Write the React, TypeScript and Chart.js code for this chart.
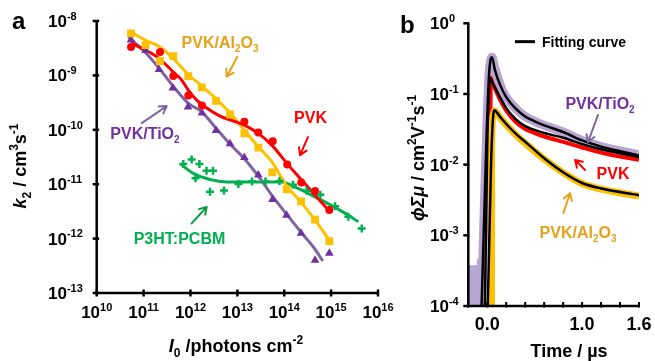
import React, { useEffect, useRef } from "react";
import { Chart, registerables } from "chart.js";
Chart.register(...registerables);

// ---------------- Panel a data ----------------
const i0Al2O3 = [5.4e10, 1.1e11, 2.24e11, 4.31e11, 8.99e11, 1.74e12, 3.51e12, 6.97e12, 1.41e13, 2.8e13, 5.55e13, 1.13e14, 2.28e14, 4.54e14, 9.16e14];
const k2Al2O3 = [5.94e-9, 3.61e-9, 1.84e-9, 2.27e-9, 9.73e-10, 6.03e-10, 3.4e-10, 1.91e-10, 8.59e-11, 4.71e-11, 1.65e-11, 8.0e-12, 4.82e-12, 2.24e-12, 8.95e-13];
const i0Al2O3Fit = [5.4e10, 1.08e11, 2.24e11, 4.4e11, 8.75e11, 1.76e12, 3.5e12, 7e12, 1.41e13, 2.8e13, 5.51e13, 1.1e14, 2.28e14, 4.54e14, 9.16e14];
const k2Al2O3Fit = [6.28e-9, 4.47e-9, 3.33e-9, 2.0e-9, 1.06e-9, 6.37e-10, 3.75e-10, 2.03e-10, 9.86e-11, 4.86e-11, 2.55e-11, 9.62e-12, 4.68e-12, 2.18e-12, 9.35e-13];

const i0PVK = [5.4e10, 2.24e11, 4.31e11, 8.99e11, 1.76e12, 1.41e13, 2.8e13, 5.68e13, 1.16e14, 2.31e14, 4.54e14, 9.16e14];
const k2PVK = [3.33e-9, 2.69e-9, 9.73e-10, 4.26e-10, 2.81e-10, 1.4e-10, 8.95e-11, 6.19e-11, 2.31e-11, 1.07e-11, 7.52e-12, 3.37e-12];
const i0PVKFit = [5.4e10, 1.11e11, 2.16e11, 4.31e11, 6.5e11, 8.99e11, 1.36e12, 2.22e12, 4.27e12, 8.2e12, 1.41e13, 2.8e13, 5.68e13, 1.15e14, 2.17e14, 4.53e14, 9.46e14];
const k2PVKFit = [3.94e-9, 2.92e-9, 2.04e-9, 1.15e-9, 8.2e-10, 5.37e-10, 3.52e-10, 2.51e-10, 1.79e-10, 1.45e-10, 1.22e-10, 8.59e-11, 5.01e-11, 2.39e-11, 1.29e-11, 6.28e-12, 3.1e-12];

const i0TiO2 = [5.4e10, 1.1e11, 2.13e11, 4.2e11, 8.87e11, 1.76e12, 3.51e12, 6.97e12, 1.41e13, 2.8e13, 5.62e13, 1.12e14, 2.28e14, 4.54e14, 9.16e14];
const k2TiO2 = [4.47e-9, 2.86e-9, 1.28e-9, 5.85e-10, 2.62e-10, 2.03e-10, 9.66e-11, 5.57e-11, 3.08e-11, 1.47e-11, 5.24e-12, 2.69e-12, 1.26e-12, 4.0e-13, 5.38e-13];
const i0TiO2Fit = [4.72e10, 1.07e11, 2.13e11, 4.25e11, 8.87e11, 1.76e12, 3.51e12, 6.97e12, 1.41e13, 2.8e13, 5.62e13, 1.12e14, 2.28e14, 4.54e14, 6.62e14];
const k2TiO2Fit = [5.08e-9, 2.69e-9, 1.36e-9, 6.37e-10, 3.1e-10, 2.12e-10, 1.07e-10, 5.46e-11, 2.95e-11, 1.41e-11, 6.03e-12, 2.81e-12, 1.31e-12, 6.37e-13, 3.88e-13];

const i0P3HT = [7.03e11, 1.06e12, 1.28e12, 1.55e12, 2.2e12, 3.03e12, 2.61e12, 5.19e12, 1.05e13, 2.06e13, 3.99e13, 7.93e13, 1.54e14, 3.02e14, 5.89e14, 1.21e15, 2.33e15, 4.5e15];
const k2P3HT = [2.34e-11, 2.85e-11, 1.28e-11, 2.34e-11, 1.76e-11, 1.76e-11, 7.23e-12, 7.67e-12, 1.01e-11, 1.12e-11, 1.12e-11, 1.15e-11, 9.72e-12, 7.6e-12, 6.37e-12, 3.94e-12, 2.51e-12, 1.53e-12];
const i0P3HTFit = [6.19e11, 1.15e12, 2.61e12, 5.93e12, 3.04e13, 8.83e13, 1.52e14, 2.55e14, 4.54e14, 8.05e14, 1.32e15, 2.33e15, 3.8e15];
const k2P3HTFit = [2.34e-11, 1.58e-11, 1.22e-11, 1.1e-11, 1.1e-11, 1.1e-11, 9.2e-12, 7.55e-12, 5.85e-12, 4.54e-12, 3.58e-12, 2.69e-12, 2.03e-12];

const aXTicks = [1e10, 1e11, 1e12, 1e13, 1e14, 1e15, 1e16];
const aXTickExp = ["10", "11", "12", "13", "14", "15", "16"];
const aYTicks = [1e-8, 1e-9, 1e-10, 1e-11, 1e-12, 1e-13];
const aYTickExp = ["-8", "-9", "-10", "-11", "-12", "-13"];

// ---------------- Panel b data ----------------
const tFitTiO2 = [-0.07, -0.06, -0.01, 0.02, 0.05, 0.08, 0.13, 0.2, 0.3, 0.4, 0.5, 0.6, 0.8, 1.0, 1.2, 1.4, 1.6];
const yFitTiO2 = [5e-5, 1e-4, 0.02, 0.2, 0.33, 0.22, 0.14, 0.09, 0.062, 0.048, 0.041, 0.036, 0.029, 0.022, 0.018, 0.0155, 0.0135];
const tFitPVK = [-0.035, -0.025, 0.0, 0.02, 0.035, 0.06, 0.13, 0.2, 0.3, 0.4, 0.5, 0.6, 0.8, 1.0, 1.2, 1.4, 1.6];
const yFitPVK = [5e-5, 1e-4, 0.02, 0.12, 0.167, 0.14, 0.092, 0.063, 0.044, 0.035, 0.031, 0.028, 0.024, 0.0195, 0.0165, 0.0145, 0.0128];
const tFitAl2O3 = [-0.005, 0.005, 0.04, 0.06, 0.077, 0.1, 0.15, 0.24, 0.32, 0.42, 0.6, 0.8, 1.0, 1.2, 1.4, 1.6];
const yFitAl2O3 = [5e-5, 1e-4, 0.01, 0.045, 0.059, 0.055, 0.045, 0.033, 0.026, 0.02, 0.0123, 0.0078, 0.0055, 0.0046, 0.0041, 0.0037];

const tDataTiO2 = [-0.06, -0.03, 0.0, 0.02, 0.04, 0.05, 0.07, 0.1, 0.15, 0.2, 0.3, 0.4, 0.5, 0.6, 0.8, 1.0, 1.2, 1.4, 1.6];
const yDataTiO2 = [1e-4, 0.003, 0.05, 0.2, 0.31, 0.33, 0.26, 0.19, 0.12, 0.09, 0.062, 0.048, 0.041, 0.036, 0.029, 0.022, 0.018, 0.0157, 0.0138];
const tNoiseTiO2 = [-0.2, -0.105, -0.104, -0.06, -0.059];
const yNoiseTiO2 = [3.7e-4, 3.7e-4, 4.6e-4, 4.6e-4, 5e-5];
const tDataPVK = [0.034, 0.035, 0.05, 0.08, 0.13, 0.2, 0.3, 0.4, 0.5, 0.6, 0.8, 1.0, 1.2, 1.4, 1.6];
const yDataPVK = [5e-5, 0.17, 0.15, 0.12, 0.085, 0.058, 0.04, 0.032, 0.028, 0.025, 0.021, 0.0175, 0.0148, 0.013, 0.0117];
const tDataAl2O3 = [0.044, 0.046, 0.06, 0.077, 0.1, 0.15, 0.24, 0.32, 0.42, 0.6, 0.8, 1.0, 1.2, 1.4, 1.6];
const yDataAl2O3 = [5e-5, 0.02, 0.05, 0.058, 0.054, 0.044, 0.032, 0.025, 0.019, 0.012, 0.0077, 0.0054, 0.0045, 0.004, 0.0036];

const bXTicks = [-0.2, 0, 0.2, 0.4, 0.6, 0.8, 1.0, 1.2, 1.4, 1.6];
const bXLabels = [{ v: 0, t: "0.0" }, { v: 1.0, t: "1.0" }, { v: 1.6, t: "1.6" }];
const bYTicks = [1, 0.1, 0.01, 0.001, 0.0001];
const bYTickExp = ["0", "-1", "-2", "-3", "-4"];

// ---------------- colors ----------------
const YELLOW = "#FFC000";
const GOLD = "#E3A21A";
const RED = "#FF0000";
const PURPLE_LINE = "#8064A2";
const PURPLE_MARK = "#7030A0";
const PURPLE_BAND = "#B8A5D2";
const GREEN = "#00B050";
const GREEN_ARROW = "#079A3A";

const FONT = '"Liberation Sans", Arial, "DejaVu Sans", sans-serif';

type Seg = { t: string; it?: boolean; sup?: boolean; sub?: boolean };

function segFont(s: Seg, size: number) {
  const sz = s.sup || s.sub ? Math.round(size * 0.65) : size;
  return `${s.it ? "italic " : ""}bold ${sz}px ${FONT}`;
}
function richWidth(ctx: CanvasRenderingContext2D, segs: Seg[], size: number) {
  let w = 0;
  for (const s of segs) {
    ctx.font = segFont(s, size);
    w += ctx.measureText(s.t).width;
  }
  return w;
}
function drawRich(ctx: CanvasRenderingContext2D, segs: Seg[], x: number, y: number, size: number, color: string, align: "left" | "center" | "right") {
  const w = richWidth(ctx, segs, size);
  let cx = align === "center" ? x - w / 2 : align === "right" ? x - w : x;
  ctx.fillStyle = color;
  ctx.textBaseline = "alphabetic";
  ctx.textAlign = "left";
  for (const s of segs) {
    ctx.font = segFont(s, size);
    const dy = s.sup ? -size * 0.42 : s.sub ? size * 0.25 : 0;
    ctx.fillText(s.t, cx, y + dy);
    cx += ctx.measureText(s.t).width;
  }
}
function drawRotated(ctx: CanvasRenderingContext2D, segs: Seg[], x: number, y: number, size: number, color: string) {
  ctx.save();
  ctx.translate(x, y);
  ctx.rotate(-Math.PI / 2);
  drawRich(ctx, segs, 0, 0, size, color, "center");
  ctx.restore();
}
function arrow(ctx: CanvasRenderingContext2D, x1: number, y1: number, x2: number, y2: number, color: string, lw = 2, head = 8) {
  ctx.save();
  ctx.strokeStyle = color;
  ctx.lineWidth = lw;
  ctx.lineCap = "round";
  ctx.lineJoin = "round";
  const a = Math.atan2(y2 - y1, x2 - x1);
  ctx.beginPath();
  ctx.moveTo(x1, y1);
  ctx.lineTo(x2, y2);
  ctx.moveTo(x2 - head * Math.cos(a - 0.55), y2 - head * Math.sin(a - 0.55));
  ctx.lineTo(x2, y2);
  ctx.lineTo(x2 - head * Math.cos(a + 0.55), y2 - head * Math.sin(a + 0.55));
  ctx.stroke();
  ctx.restore();
}

const pts = (xs: number[], ys: number[]) => xs.map((x, i) => ({ x, y: ys[i] }));

// annotations in data coordinates
const annA = [
  { segs: [{ t: "PVK/Al" }, { t: "2", sub: true }, { t: "O" }, { t: "3", sub: true }] as Seg[], x: 4.27e12, y: 4.11e-9, color: GOLD },
  { segs: [{ t: "PVK" }] as Seg[], x: 3.64e14, y: 1.71e-10, color: RED },
  { segs: [{ t: "PVK/TiO" }, { t: "2", sub: true }] as Seg[], x: 1.07e11, y: 8.71e-11, color: PURPLE_MARK },
  { segs: [{ t: "P3HT:PCBM" }] as Seg[], x: 5.83e11, y: 1.02e-12, color: GREEN },
];
const arrowsA = [
  { x1: 1.0e13, y1: 2.2e-9, x2: 5.93e12, y2: 9.44e-10, color: GOLD },
  { x1: 3.21e14, y1: 7.35e-11, x2: 2.17e14, y2: 3.42e-11, color: RED },
  { x1: 9.12e10, y1: 1.33e-10, x2: 3.11e11, y2: 2.73e-10, color: PURPLE_LINE },
  { x1: 1.06e12, y1: 1.9e-12, x2: 2.22e12, y2: 3.83e-12, color: GREEN_ARROW },
];
const annB = [
  { segs: [{ t: "PVK/TiO" }, { t: "2", sub: true }] as Seg[], x: 1.189, y: 0.0746, color: PURPLE_MARK },
  { segs: [{ t: "PVK" }] as Seg[], x: 1.326, y: 0.00764, color: RED },
  { segs: [{ t: "PVK/Al" }, { t: "2", sub: true }, { t: "O" }, { t: "3", sub: true }] as Seg[], x: 0.957, y: 0.00112, color: GOLD },
];
const arrowsB = [
  { x1: 1.168, y1: 0.0505, x2: 1.063, y2: 0.0209, color: PURPLE_LINE },
  { x1: 1.031, y1: 0.00841, x2: 0.926, y2: 0.01167, color: RED },
  { x1: 0.802, y1: 0.00206, x2: 0.873, y2: 0.00394, color: GOLD },
];

const panelAPlugin = {
  id: "panelA",
  afterDatasetsDraw(chart: any) {
    const ctx: CanvasRenderingContext2D = chart.ctx;
    const xs = chart.scales.x, ys = chart.scales.y;
    const { left, right, top, bottom } = chart.chartArea;
    ctx.save();
    ctx.strokeStyle = "#000";
    ctx.lineWidth = 2.5;
    ctx.beginPath();
    ctx.moveTo(left, top);
    ctx.lineTo(left, bottom);
    ctx.lineTo(right, bottom);
    ctx.stroke();
    ctx.lineWidth = 2.5;
    aYTicks.forEach((v, i) => {
      const py = ys.getPixelForValue(v);
      ctx.beginPath();
      ctx.moveTo(left - 4, py);
      ctx.lineTo(left + 2.5, py);
      ctx.stroke();
      drawRich(ctx, [{ t: "10" }, { t: aYTickExp[i], sup: true }], 48, py + 6, 17, "#000", "left");
    });
    aXTicks.forEach((v, i) => {
      const px = xs.getPixelForValue(v);
      ctx.beginPath();
      ctx.moveTo(px, bottom - 3.5);
      ctx.lineTo(px, bottom + 3.5);
      ctx.stroke();
      drawRich(ctx, [{ t: "10" }, { t: aXTickExp[i], sup: true }], px, 318, 17, "#000", "center");
    });
    // titles
    drawRotated(ctx, [{ t: "k", it: true }, { t: "2", sub: true }, { t: " / cm" }, { t: "3", sup: true }, { t: "s" }, { t: "-1", sup: true }], 26, 166, 18, "#000");
    drawRich(ctx, [{ t: "I", it: true }, { t: "0", sub: true }, { t: " /photons cm" }, { t: "-2", sup: true }], 236, 352, 18, "#000", "center");
    drawRich(ctx, [{ t: "a" }], 12, 29, 24, "#000", "left");
    // annotations
    annA.forEach((a) => {
      drawRich(ctx, a.segs, xs.getPixelForValue(a.x), ys.getPixelForValue(a.y) + 6, 16, a.color, "center");
    });
    arrowsA.forEach((a) => {
      arrow(ctx, xs.getPixelForValue(a.x1), ys.getPixelForValue(a.y1), xs.getPixelForValue(a.x2), ys.getPixelForValue(a.y2), a.color);
    });
    ctx.restore();
  },
};

const panelBPlugin = {
  id: "panelB",
  afterDatasetsDraw(chart: any) {
    const ctx: CanvasRenderingContext2D = chart.ctx;
    const xs = chart.scales.x, ys = chart.scales.y;
    const { left, right, top, bottom } = chart.chartArea;
    ctx.save();
    ctx.strokeStyle = "#000";
    ctx.lineWidth = 2.5;
    ctx.beginPath();
    ctx.moveTo(left, top);
    ctx.lineTo(left, bottom);
    ctx.lineTo(right, bottom);
    ctx.stroke();
    bYTicks.forEach((v, i) => {
      const py = ys.getPixelForValue(v);
      ctx.beginPath();
      ctx.moveTo(left - 5, py);
      ctx.lineTo(left + 1, py);
      ctx.stroke();
      drawRich(ctx, [{ t: "10" }, { t: bYTickExp[i], sup: true }], 30, py + 6, 17, "#000", "left");
    });
    ctx.lineWidth = 2;
    bXTicks.forEach((v) => {
      const px = xs.getPixelForValue(v);
      ctx.beginPath();
      ctx.moveTo(px, bottom - 4);
      ctx.lineTo(px, bottom + 1.5);
      ctx.stroke();
    });
    bXLabels.forEach((l) => {
      drawRich(ctx, [{ t: l.t }], xs.getPixelForValue(l.v), 330, 18, "#000", "center");
    });
    drawRotated(ctx, [{ t: "\u03D5\u03A3\u03BC", it: true }, { t: " / cm" }, { t: "2", sup: true }, { t: "V" }, { t: "-1", sup: true }, { t: "s" }, { t: "-1", sup: true }], 24, 158, 18, "#000");
    drawRich(ctx, [{ t: "Time / \u00B5s" }], 169, 357, 18, "#000", "center");
    drawRich(ctx, [{ t: "b" }], 0, 33, 24, "#000", "left");
    // legend
    const ly = ys.getPixelForValue(0.55);
    ctx.lineWidth = 3;
    ctx.beginPath();
    ctx.moveTo(xs.getPixelForValue(0.292), ly);
    ctx.lineTo(xs.getPixelForValue(0.503), ly);
    ctx.stroke();
    drawRich(ctx, [{ t: "Fitting curve" }], xs.getPixelForValue(0.577), ly + 5, 14, "#000", "left");
    annB.forEach((a) => {
      drawRich(ctx, a.segs, xs.getPixelForValue(a.x), ys.getPixelForValue(a.y) + 6, 16, a.color, "center");
    });
    arrowsB.forEach((a) => {
      arrow(ctx, xs.getPixelForValue(a.x1), ys.getPixelForValue(a.y1), xs.getPixelForValue(a.x2), ys.getPixelForValue(a.y2), a.color);
    });
    ctx.restore();
  },
};

function fitLine(xs: number[], ys: number[], color: string, width: number, order: number) {
  return {
    data: pts(xs, ys),
    borderColor: color,
    backgroundColor: color,
    borderWidth: width,
    pointRadius: 0,
    cubicInterpolationMode: "monotone" as const,
    fill: false,
    order,
  };
}
function markers(xs: number[], ys: number[], color: string, style: string, radius: number, order: number, bw = 0) {
  return {
    data: pts(xs, ys),
    showLine: false,
    borderColor: color,
    backgroundColor: color,
    pointStyle: style,
    pointRadius: radius,
    pointBorderWidth: bw,
    pointBorderColor: color,
    pointBackgroundColor: color,
    order,
  };
}

export default function App() {
  const refA = useRef<HTMLCanvasElement>(null);
  const refB = useRef<HTMLCanvasElement>(null);
  useEffect(() => {
    const chartA = new Chart(refA.current!, {
      type: "line",
      data: {
        datasets: [
          fitLine(i0P3HTFit, k2P3HTFit, GREEN, 3, 12),
          fitLine(i0TiO2Fit, k2TiO2Fit, PURPLE_LINE, 3, 11),
          fitLine(i0Al2O3Fit, k2Al2O3Fit, YELLOW, 3, 10),
          fitLine(i0PVKFit, k2PVKFit, RED, 3, 9),
          markers(i0P3HT, k2P3HT, GREEN, "cross", 4, 4, 2.5),
          markers(i0TiO2, k2TiO2, PURPLE_MARK, "triangle", 5, 3),
          markers(i0Al2O3, k2Al2O3, YELLOW, "rect", 5.5, 2),
          markers(i0PVK, k2PVK, RED, "circle", 4, 1),
        ] as any,
      },
      options: {
        responsive: false,
        animation: false,
        events: [],
        layout: { padding: { left: 96.7, right: 22, top: 21, bottom: 68 } },
        plugins: { legend: { display: false }, tooltip: { enabled: false } },
        scales: {
          x: { type: "logarithmic", min: 1e10, max: 1e16, display: false },
          y: { type: "logarithmic", min: 1e-13, max: 1e-8, display: false },
        },
      } as any,
      plugins: [panelAPlugin],
    });
    const chartB = new Chart(refB.current!, {
      type: "line",
      data: {
        datasets: [
          fitLine(tFitTiO2, yFitTiO2, "#000", 2.5, 1),
          fitLine(tFitPVK, yFitPVK, "#000", 2.5, 2),
          fitLine(tFitAl2O3, yFitAl2O3, "#000", 2.5, 3),
          fitLine(tDataAl2O3, yDataAl2O3, YELLOW, 7, 8),
          fitLine(tDataPVK, yDataPVK, RED, 4, 9),
          fitLine(tDataTiO2, yDataTiO2, PURPLE_BAND, 9, 10),
          {
            data: pts(tNoiseTiO2, yNoiseTiO2),
            borderColor: PURPLE_BAND,
            backgroundColor: PURPLE_BAND,
            borderWidth: 1,
            pointRadius: 0,
            fill: "start",
            order: 11,
          },
        ] as any,
      },
      options: {
        responsive: false,
        animation: false,
        events: [],
        layout: { padding: { left: 68.3, right: 16, top: 23.3, bottom: 55 } },
        plugins: { legend: { display: false }, tooltip: { enabled: false }, filler: { propagate: false } },
        scales: {
          x: { type: "linear", min: -0.2, max: 1.6, display: false },
          y: { type: "logarithmic", min: 1e-4, max: 1, display: false },
        },
      } as any,
      plugins: [panelBPlugin],
    });
    return () => {
      chartA.destroy();
      chartB.destroy();
    };
  }, []);
  return (
    <div style={{ position: "absolute", left: 0, top: 0, width: 655, height: 361, background: "#fff" }}>
      <canvas ref={refA} width={400} height={361} style={{ position: "absolute", left: 0, top: 0 }} />
      <canvas ref={refB} width={255} height={361} style={{ position: "absolute", left: 400, top: 0 }} />
    </div>
  );
}
